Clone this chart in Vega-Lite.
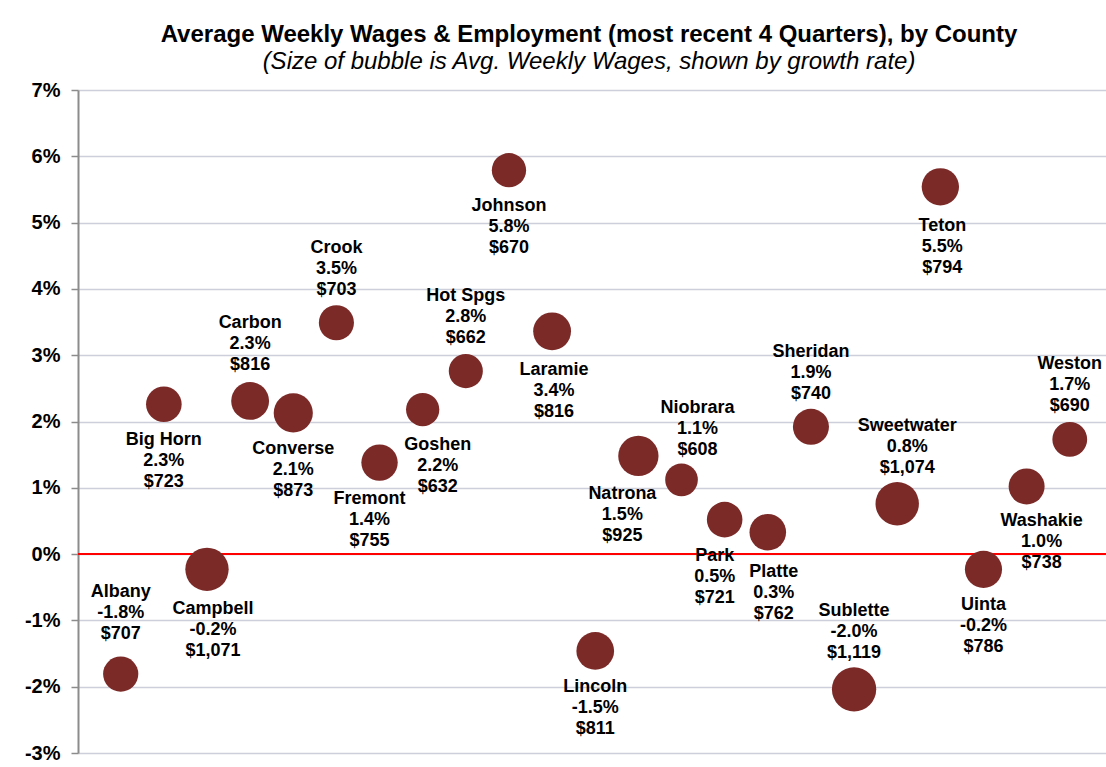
{
  "$schema": "https://vega.github.io/schema/vega-lite/v6.json",
  "width": 1028,
  "height": 663,
  "autosize": "none",
  "padding": {"left": 78, "top": 90, "right": 0, "bottom": 14},
  "background": "white",
  "title": {
    "text": "Average Weekly Wages & Employment (most recent 4 Quarters), by County",
    "subtitle": "(Size of bubble is Avg. Weekly Wages, shown by growth rate)",
    "anchor": "middle",
    "dx": -3,
    "offset": 6,
    "font": "Liberation Sans",
    "fontSize": 24,
    "fontWeight": "bold",
    "color": "black",
    "subtitleFont": "Liberation Sans",
    "subtitleFontSize": 24,
    "subtitleFontStyle": "italic",
    "subtitleColor": "black",
    "subtitlePadding": 3
  },
  "data": {
    "values": [
      {"county": "Albany", "growth": -1.81, "wage": 707},
      {"county": "Big Horn", "growth": 2.26, "wage": 723},
      {"county": "Campbell", "growth": -0.23, "wage": 1071},
      {"county": "Carbon", "growth": 2.31, "wage": 816},
      {"county": "Converse", "growth": 2.13, "wage": 873},
      {"county": "Crook", "growth": 3.49, "wage": 703},
      {"county": "Fremont", "growth": 1.38, "wage": 755},
      {"county": "Goshen", "growth": 2.18, "wage": 632},
      {"county": "Hot Spgs", "growth": 2.76, "wage": 662},
      {"county": "Johnson", "growth": 5.79, "wage": 670},
      {"county": "Laramie", "growth": 3.36, "wage": 816},
      {"county": "Lincoln", "growth": -1.46, "wage": 811},
      {"county": "Natrona", "growth": 1.48, "wage": 925},
      {"county": "Niobrara", "growth": 1.12, "wage": 608},
      {"county": "Park", "growth": 0.52, "wage": 721},
      {"county": "Platte", "growth": 0.33, "wage": 762},
      {"county": "Sheridan", "growth": 1.92, "wage": 740},
      {"county": "Sublette", "growth": -2.04, "wage": 1119},
      {"county": "Sweetwater", "growth": 0.76, "wage": 1074},
      {"county": "Teton", "growth": 5.54, "wage": 794},
      {"county": "Uinta", "growth": -0.23, "wage": 786},
      {"county": "Washakie", "growth": 1.02, "wage": 738},
      {"county": "Weston", "growth": 1.73, "wage": 690}
    ]
  },
  "transform": [
    {"calculate": "datum.county + '\\n' + (datum.growth < 0 ? '-' : '') + format(abs(datum.growth), '.1f') + '%\\n$' + format(datum.wage, ',')", "as": "label"}
  ],
  "encoding": {
    "x": {"field": "county", "type": "nominal", "sort": null, "scale": {"type": "point", "padding": 0.915, "align": 0.541}, "axis": null},
    "y": {
      "field": "growth",
      "type": "quantitative",
      "scale": {"domain": [-3, 7], "nice": false, "zero": false},
      "axis": {
        "values": [-3, -2, -1, 0, 1, 2, 3, 4, 5, 6, 7],
        "labelExpr": "datum.value + '%'",
        "title": null,
        "labelFont": "Liberation Sans",
        "labelFontSize": 20,
        "labelFontWeight": "bold",
        "labelColor": "black",
        "labelPadding": 11,
        "tickSize": 7,
        "tickColor": "#8C8C8C",
        "tickWidth": 1.5,
        "domainColor": "#8C8C8C",
        "domainWidth": 2,
        "grid": true,
        "gridColor": "#CDD0DA",
        "gridWidth": 1.3
      }
    }
  },
  "layer": [
    {
      "mark": {"type": "rule", "color": "#FF0000", "strokeWidth": 2},
      "encoding": {"x": null, "y": {"datum": 0, "type": "quantitative"}}
    },
    {
      "mark": {"type": "circle", "opacity": 1, "color": "#7B2A28"},
      "encoding": {
        "size": {"field": "wage", "type": "quantitative", "scale": {"domain": [0, 1119], "range": [0, 1963]}, "legend": null}
      }
    },
    {
      "encoding": {"text": {"field": "label", "type": "nominal"}},
      "layer": [
        {"transform": [{"filter": {"field": "county", "oneOf": ["Crook", "Hot Spgs", "Sheridan", "Weston"]}}], "mark": {"type": "text", "dx": 0, "dy": -70}},
        {"transform": [{"filter": {"field": "county", "oneOf": ["Carbon", "Sublette"]}}], "mark": {"type": "text", "dx": 0, "dy": -73}},
        {"transform": [{"filter": {"field": "county", "oneOf": ["Albany"]}}], "mark": {"type": "text", "dx": 0, "dy": -77}},
        {"transform": [{"filter": {"field": "county", "oneOf": ["Niobrara"]}}], "mark": {"type": "text", "dx": 16, "dy": -67}},
        {"transform": [{"filter": {"field": "county", "oneOf": ["Sweetwater"]}}], "mark": {"type": "text", "dx": 10, "dy": -73}},
        {"transform": [{"filter": {"field": "county", "oneOf": ["Big Horn", "Converse", "Johnson", "Uinta", "Lincoln"]}}], "mark": {"type": "text", "dx": 0, "dy": 41}},
        {"transform": [{"filter": {"field": "county", "oneOf": ["Laramie", "Teton"]}}], "mark": {"type": "text", "dx": 2, "dy": 44}},
        {"transform": [{"filter": {"field": "county", "oneOf": ["Fremont", "Park"]}}], "mark": {"type": "text", "dx": -10, "dy": 41}},
        {"transform": [{"filter": {"field": "county", "oneOf": ["Natrona"]}}], "mark": {"type": "text", "dx": -16, "dy": 43}},
        {"transform": [{"filter": {"field": "county", "oneOf": ["Goshen", "Washakie"]}}], "mark": {"type": "text", "dx": 15, "dy": 40}},
        {"transform": [{"filter": {"field": "county", "oneOf": ["Platte", "Campbell"]}}], "mark": {"type": "text", "dx": 6, "dy": 45}}
      ]
    }
  ],
  "config": {
    "view": {"stroke": null},
    "text": {
      "font": "Liberation Sans",
      "fontSize": 18,
      "fontWeight": "bold",
      "lineHeight": 21,
      "lineBreak": "\n",
      "baseline": "alphabetic",
      "align": "center",
      "color": "black"
    }
  }
}
